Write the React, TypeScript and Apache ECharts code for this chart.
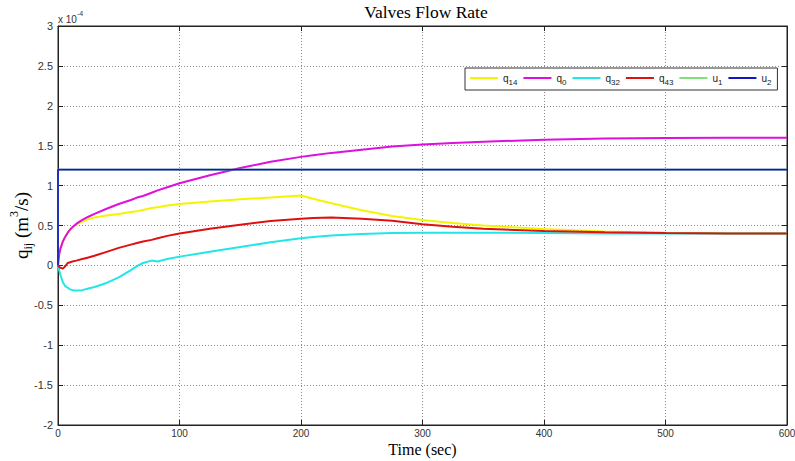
import React, { useEffect, useRef } from "react";
import * as echarts from "echarts";

// time (sec)
const timeSec = [0, 1, 2, 4, 6, 8, 10, 12, 15, 20, 25, 30, 40, 50, 60, 65, 70, 77, 82, 90, 100, 125, 150, 175, 200, 210, 225, 250, 275, 300, 325, 350, 400, 450, 500, 550, 600];
// values in units of 1e-4 m^3/s
const q14 = [0, 0.14, 0.21, 0.3, 0.36, 0.41, 0.45, 0.48, 0.51, 0.55, 0.58, 0.6, 0.625, 0.645, 0.67, 0.68, 0.695, 0.72, 0.73, 0.75, 0.77, 0.8, 0.83, 0.85, 0.875, 0.835, 0.78, 0.69, 0.62, 0.57, 0.53, 0.5, 0.455, 0.425, 0.41, 0.403, 0.4];
const q0 = [0, 0.14, 0.21, 0.3, 0.36, 0.41, 0.45, 0.48, 0.52, 0.57, 0.61, 0.645, 0.71, 0.77, 0.82, 0.85, 0.87, 0.91, 0.94, 0.98, 1.03, 1.13, 1.22, 1.3, 1.36, 1.38, 1.41, 1.45, 1.49, 1.515, 1.535, 1.55, 1.575, 1.59, 1.598, 1.6, 1.6];
const q32 = [0, -0.06, -0.12, -0.21, -0.26, -0.28, -0.3, -0.31, -0.315, -0.31, -0.29, -0.27, -0.22, -0.15, -0.06, -0.01, 0.03, 0.06, 0.05, 0.08, 0.11, 0.17, 0.23, 0.29, 0.34, 0.355, 0.375, 0.395, 0.405, 0.41, 0.41, 0.41, 0.405, 0.4, 0.4, 0.4, 0.4];
const q43 = [0, -0.02, -0.03, -0.04, -0.01, 0.03, 0.04, 0.05, 0.06, 0.08, 0.1, 0.12, 0.17, 0.22, 0.26, 0.28, 0.3, 0.32, 0.34, 0.37, 0.4, 0.46, 0.51, 0.555, 0.585, 0.595, 0.6, 0.585, 0.56, 0.515, 0.485, 0.46, 0.43, 0.415, 0.405, 0.4, 0.4];
const uTime = [0, 0, 600];
const u1 = [0, 1.2, 1.2];
const u2 = [0, 1.2, 1.2];

const xTicks = [0, 100, 200, 300, 400, 500, 600];
const yTicks = [-2, -1.5, -1, -0.5, 0, 0.5, 1, 1.5, 2, 2.5, 3];

const seriesDefs = [
  { name: "q14", label: "{m|q}{s|14}", t: timeSec, v: q14, color: "#f4f400" },
  { name: "q0", label: "{m|q}{s|0}", t: timeSec, v: q0, color: "#dd10dd" },
  { name: "q32", label: "{m|q}{s|32}", t: timeSec, v: q32, color: "#22e6e6" },
  { name: "q43", label: "{m|q}{s|43}", t: timeSec, v: q43, color: "#dd1111" },
  { name: "u1", label: "{m|u}{s|1}", t: uTime, v: u1, color: "#7ee07e" },
  { name: "u2", label: "{m|u}{s|2}", t: uTime, v: u2, color: "#1515c4" },
];

const SERIF = "'Liberation Serif', 'Times New Roman', serif";
const SANS = "'Liberation Sans', Arial, sans-serif";

export default function App() {
  const ref = useRef<HTMLDivElement>(null);
  useEffect(() => {
    if (!ref.current) return;
    const chart = echarts.init(ref.current, undefined, { renderer: "svg" });
    const gridLine = { show: true, lineStyle: { color: "#8a8a8a", type: [1, 2], width: 1 } };
    const labelMap: Record<string, string> = {};
    seriesDefs.forEach((s) => (labelMap[s.name] = s.label));
    chart.setOption({
      animation: false,
      backgroundColor: "#fff",
      grid: {
        left: 58,
        top: 26,
        width: 729,
        height: 399,
        show: true,
        borderColor: "#222",
        borderWidth: 1,
        backgroundColor: "transparent",
        outerBoundsMode: "none",
        containLabel: false,
      },
      graphic: [
        {
          type: "text",
          x: 426,
          y: 3,
          style: { text: "Valves Flow Rate", font: `17.5px ${SERIF}`, fill: "#000", align: "center", verticalAlign: "top" },
        },
        {
          type: "text",
          left: 58,
          top: 10,
          style: {
            text: "{a|x 10}{b|-4}",
            rich: {
              a: { fontFamily: SANS, fontSize: 10, fill: "#333", lineHeight: 14, verticalAlign: "bottom" },
              b: { fontFamily: SANS, fontSize: 7, fill: "#333", lineHeight: 14, verticalAlign: "top" },
            },
          },
        },
      ],
      legend: {
        left: 465,
        top: 68,
        width: 330,
        orient: "horizontal",
        backgroundColor: "#fff",
        borderColor: "#333",
        borderWidth: 1,
        borderRadius: 0,
        padding: [4, 6, 4, 5],
        itemGap: 6,
        itemWidth: 28,
        itemHeight: 2,
        icon: "rect",
        data: seriesDefs.map((s) => s.name),
        formatter: (n: string) => labelMap[n] || n,
        textStyle: {
          rich: {
            m: { fontFamily: SANS, fontSize: 10, color: "#222", lineHeight: 16, verticalAlign: "middle" },
            s: { fontFamily: SANS, fontSize: 8, color: "#222", lineHeight: 16, verticalAlign: "bottom", padding: [6, 0, 0, 0] },
          },
        },
      },
      xAxis: [
        {
          type: "value",
          min: 0,
          max: 600,
          interval: 100,
          name: "Time (sec)",
          nameLocation: "middle",
          nameGap: 16,
          nameMoveOverlap: false,
          nameTextStyle: { fontFamily: SERIF, fontSize: 16, color: "#000", verticalAlign: "top" },
          axisLine: { show: true, onZero: false, lineStyle: { color: "#222" } },
          axisTick: { show: true, inside: true, length: 5, lineStyle: { color: "#222" } },
          axisLabel: { fontFamily: SANS, fontSize: 10, color: "#333", margin: 3 },
          splitLine: gridLine,
        },
        {
          type: "value",
          position: "top",
          min: 0,
          max: 600,
          interval: 100,
          axisLine: { show: true, onZero: false, lineStyle: { color: "#222" } },
          axisTick: { show: true, inside: true, length: 5, lineStyle: { color: "#222" } },
          axisLabel: { show: false },
          splitLine: { show: false },
        },
      ],
      yAxis: [
        {
          type: "value",
          min: -2,
          max: 3,
          interval: 0.5,
          name: "{m|q}{s|ij}{m| (m}{p|3}{m|/s)}",
          nameLocation: "middle",
          nameGap: 24,
          nameMoveOverlap: false,
          nameRotate: 90,
          nameTextStyle: {
            rich: {
              m: { fontFamily: SERIF, fontSize: 19, color: "#000", lineHeight: 26, verticalAlign: "middle" },
              s: { fontFamily: SERIF, fontSize: 12, color: "#000", lineHeight: 26, verticalAlign: "bottom", padding: [9, 0, 0, 0] },
              p: { fontFamily: SERIF, fontSize: 12, color: "#000", lineHeight: 26, verticalAlign: "top", padding: [0, 0, 9, 0] },
            },
          },
          axisLine: { show: true, onZero: false, lineStyle: { color: "#222" } },
          axisTick: { show: true, inside: true, length: 5, lineStyle: { color: "#222" } },
          axisLabel: {
            fontFamily: SANS,
            fontSize: 11,
            color: "#333",
            margin: 5,
            formatter: (v: number) => String(v),
          },
          splitLine: gridLine,
        },
        {
          type: "value",
          position: "right",
          min: -2,
          max: 3,
          interval: 0.5,
          axisLine: { show: true, onZero: false, lineStyle: { color: "#222" } },
          axisTick: { show: true, inside: true, length: 5, lineStyle: { color: "#222" } },
          axisLabel: { show: false },
          splitLine: { show: false },
        },
      ],
      series: seriesDefs.map((s) => ({
        name: s.name,
        type: "line",
        xAxisIndex: 0,
        yAxisIndex: 0,
        showSymbol: false,
        symbol: "none",
        lineStyle: { color: s.color, width: s.name.startsWith("u") ? 1.7 : 2 },
        itemStyle: { color: s.color },
        data: s.t.map((t, i) => [t, s.v[i]]),
      })),
    });
    return () => chart.dispose();
  }, []);
  return <div ref={ref} style={{ width: 795, height: 461, position: "absolute", left: 0, top: 0 }} />;
}
